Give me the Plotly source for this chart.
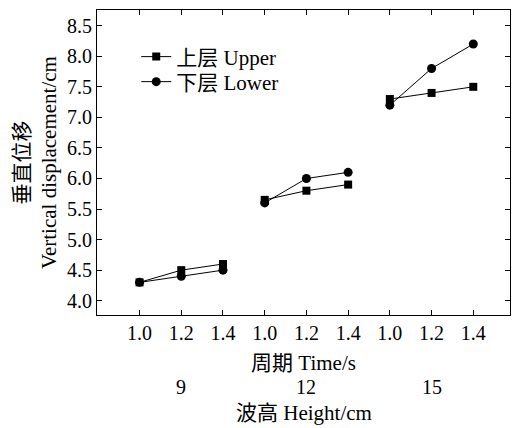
import plotly.graph_objects as go

periods = [1.0, 1.2, 1.4]
period_labels = ["1.0", "1.2", "1.4"]
heights = [9, 12, 15]
upper = [[4.3, 4.5, 4.6], [5.65, 5.8, 5.9], [7.3, 7.4, 7.5]]
lower = [[4.3, 4.4, 4.5], [5.6, 6.0, 6.1], [7.2, 7.8, 8.2]]
y_ticks = [4.0, 4.5, 5.0, 5.5, 6.0, 6.5, 7.0, 7.5, 8.0, 8.5]

FONT = "Liberation Serif, Times New Roman, Noto Sans CJK SC, serif"

def build(series):
    xs, ys = [], []
    for g, vals in enumerate(series):
        for i, v in enumerate(vals):
            xs.append(g * len(periods) + i + 1)
            ys.append(v)
        xs.append(None)
        ys.append(None)
    return xs, ys

fig = go.Figure()
xu, yu = build(upper)
xl, yl = build(lower)
fig.add_trace(go.Scatter(x=xu, y=yu, mode="lines+markers", name="上层 Upper",
                         legend="legend",
                         line=dict(color="black", width=1),
                         marker=dict(symbol="square", size=8, color="black")))
fig.add_trace(go.Scatter(x=xl, y=yl, mode="lines+markers", name="下层 Lower",
                         legend="legend2",
                         line=dict(color="black", width=1),
                         marker=dict(symbol="circle", size=9, color="black")))

tickvals = [g * len(periods) + i + 1 for g in range(len(heights)) for i in range(len(periods))]
ticktext = period_labels * len(heights)

for g, h in enumerate(heights):
    fig.add_annotation(x=g * len(periods) + 2, y=-0.236, xref="x", yref="paper",
                       text=str(h), showarrow=False, yanchor="middle",
                       font=dict(family=FONT, size=20, color="black"))
fig.add_annotation(x=0.5, y=-0.322, xref="paper", yref="paper",
                   text="波高 Height/cm", showarrow=False, yanchor="middle",
                   font=dict(family=FONT, size=21, color="black"))

leg = dict(xanchor="left", yanchor="middle", bgcolor="rgba(0,0,0,0)",
           font=dict(family=FONT, size=21))

fig.update_layout(
    width=512, height=428,
    margin=dict(l=97, r=2, t=10, b=113),
    paper_bgcolor="white", plot_bgcolor="white",
    font=dict(family=FONT, size=20, color="black"),
    showlegend=True,
    legend=dict(x=0.095, y=0.846, **leg),
    legend2=dict(x=0.095, y=0.764, **leg),
    xaxis=dict(range=[-0.02, 9.88], tickvals=tickvals, ticktext=ticktext,
               ticks="inside", ticklen=5, tickwidth=1, tickcolor="black",
               showline=True, linecolor="black", linewidth=1, mirror="ticks",
               showgrid=False, zeroline=False,
               tickfont=dict(family=FONT, size=20),
               title=dict(text="周期 Time/s", standoff=12,
                          font=dict(family=FONT, size=21))),
    yaxis=dict(range=[3.766, 8.757], tickvals=y_ticks,
               ticktext=[f"{v:.1f}" for v in y_ticks],
               ticks="inside", ticklen=5, tickwidth=1, tickcolor="black",
               showline=True, linecolor="black", linewidth=1, mirror="ticks",
               showgrid=False, zeroline=False,
               tickfont=dict(family=FONT, size=20),
               title=dict(text="垂直位移<br>Vertical displacement/cm", standoff=4,
                          font=dict(family=FONT, size=21))),
)

fig.write_html("out.html")
